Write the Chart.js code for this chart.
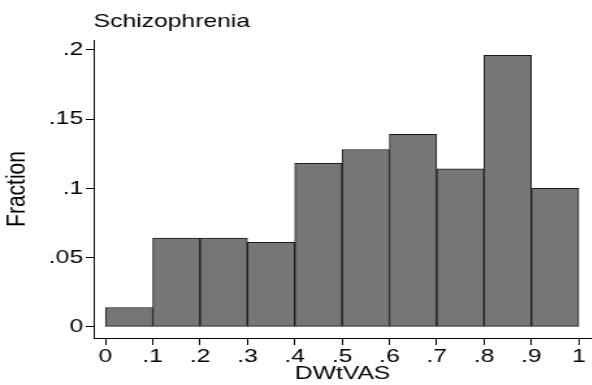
<!DOCTYPE html>
<html>
<head>
<meta charset="utf-8">
<script src="https://cdn.jsdelivr.net/npm/chart.js@4"></script>
<style>
  html, body { margin: 0; padding: 0; background: #fff; overflow: hidden; }
  #wrap { width: 592px; height: 385px; overflow: hidden; }
  /* the original Stata graph is stretched sideways, so draw narrow and widen */
  #hist { transform: scaleX(1.3); transform-origin: 0 0; }
</style>
</head>
<body>
<div id="wrap"><canvas id="hist" width="456" height="385"></canvas></div>
<script>
const chartTitle = "Schizophrenia";
const binEdges = [0, 0.1, 0.2, 0.3, 0.4, 0.5, 0.6, 0.7, 0.8, 0.9, 1];
const fractions = [0.014, 0.064, 0.064, 0.061, 0.118, 0.128, 0.139, 0.114, 0.196, 0.100];
const xTicks = [0, 0.1, 0.2, 0.3, 0.4, 0.5, 0.6, 0.7, 0.8, 0.9, 1];
const xTickLabels = ["0", ".1", ".2", ".3", ".4", ".5", ".6", ".7", ".8", ".9", "1"];
const yTicks = [0, 0.05, 0.1, 0.15, 0.2];
const yTickLabels = ["0", ".05", ".1", ".15", ".2"];

const font = "'Liberation Sans', Arial, sans-serif";
Chart.defaults.font.family = font;
Chart.defaults.color = "#000";

// bars sit at the middle of each bin
const points = fractions.map((f, i) => ({ x: (binEdges[i] + binEdges[i + 1]) / 2, y: f }));

// title drawn flush with the plot's left edge
const leftTitle = {
  id: "leftTitle",
  afterDraw(chart) {
    const ctx = chart.ctx;
    ctx.save();
    ctx.font = "19px " + font;
    ctx.fillStyle = "#000";
    ctx.textBaseline = "alphabetic";
    ctx.fillText(chartTitle, chart.chartArea.left, 27);
    ctx.restore();
  }
};

const hist = new Chart(document.querySelector("#hist"), {
  type: "bar",
  data: {
    datasets: [
      {
        data: points,
        backgroundColor: "#767676",
        borderColor: "#1a1a1a",
        borderWidth: 1,
        borderSkipped: false,
        categoryPercentage: 1,
        barPercentage: 1,
      },
    ],
  },
  options: {
    responsive: false,
    animation: false,
    layout: { padding: { top: 40, right: 1, left: 0, bottom: 0 } },
    plugins: {
      legend: { display: false },
      tooltip: { enabled: false },
    },
    scales: {
      x: {
        type: "linear",
        min: -0.025,
        max: 1.027,
        offset: false,
        afterBuildTicks: (s) => { s.ticks = xTicks.map((v) => ({ value: v })); },
        afterFit: (s) => { s.height = 47; },
        ticks: {
          autoSkip: false,
          maxRotation: 0,
          padding: 0,
          font: { size: 19 },
          callback: (v, i) => xTickLabels[i],
        },
        grid: { display: true, offset: false, drawOnChartArea: false, drawTicks: true, tickLength: 7, color: "#000" },
        border: { display: true, color: "#000", width: 1 },
        title: { display: true, text: "DWtVAS", font: { size: 19 }, padding: { top: -7, bottom: 0 } },
      },
      y: {
        min: -0.008,
        max: 0.207,
        afterBuildTicks: (s) => { s.ticks = yTicks.map((v) => ({ value: v })); },
        afterFit: (s) => { s.width = 72; },
        ticks: {
          padding: 2,
          font: { size: 19 },
          callback: (v, i) => yTickLabels[i],
        },
        grid: { display: true, drawOnChartArea: false, drawTicks: true, tickLength: 6, color: "#000" },
        border: { display: true, color: "#000", width: 1 },
        title: { display: true, text: "Fraction", font: { size: 21 }, padding: { top: 1, bottom: 0 } },
      },
    },
  },
  plugins: [leftTitle],
});
</script>
</body>
</html>
